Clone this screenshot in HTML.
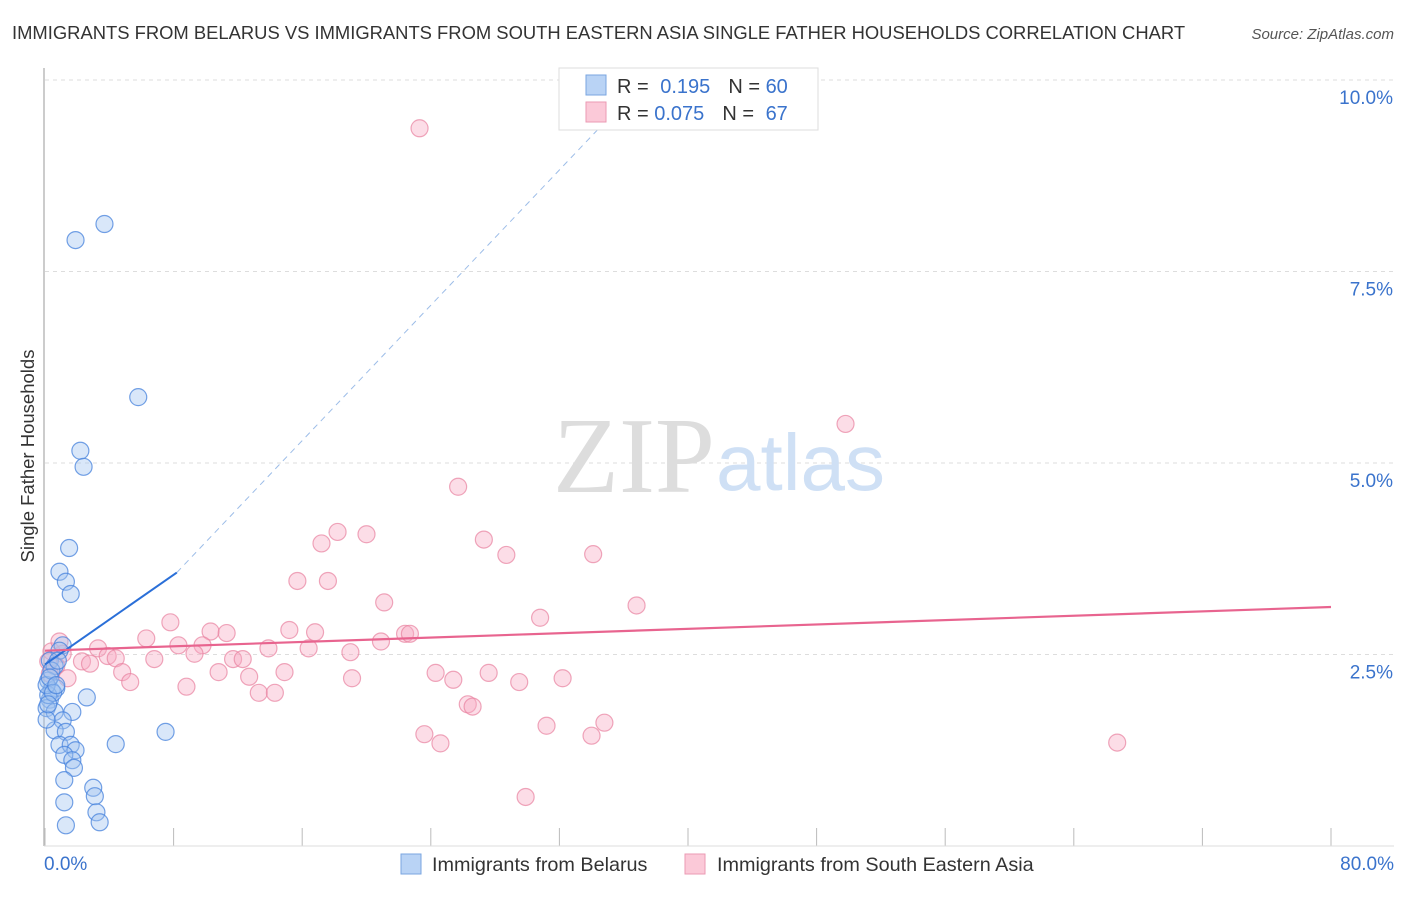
<!DOCTYPE html>
<html><head><meta charset="utf-8"><style>
body{margin:0;background:#fff;font-family:"Liberation Sans",sans-serif}
svg text{font-family:"Liberation Sans",sans-serif}
</style></head><body>
<svg id="chart" width="1406" height="892" viewBox="0 0 1406 892">
<text x="12" y="39" font-size="18.4" fill="#333">IMMIGRANTS FROM BELARUS VS IMMIGRANTS FROM SOUTH EASTERN ASIA SINGLE FATHER HOUSEHOLDS CORRELATION CHART</text>
<text x="1394" y="39" font-size="15" fill="#555" text-anchor="end" font-style="italic">Source: ZipAtlas.com</text>
<text x="34" y="456" font-size="18.5" fill="#333" text-anchor="middle" transform="rotate(-90 34 456)">Single Father Households</text>
<g id="grid"></g>
<g id="ticks"></g>
<line x1="44" y1="68" x2="44" y2="846" stroke="#bbb" stroke-width="1.5"/>
<line x1="44" y1="846" x2="1394" y2="846" stroke="#ddd" stroke-width="1"/>
<text x="553" y="492" font-size="108" fill="#ddd" style="font-family:'Liberation Serif',serif">ZIP</text>
<text x="716" y="490" font-size="80" fill="#cfe0f5">atlas</text>
<g id="pink"></g>
<g id="blue"></g>
<g id="trends"></g>
<g>
<rect x="559" y="68" width="259" height="62" fill="#fff" stroke="#ddd"/>
<rect x="586" y="75" width="20" height="20" fill="#b9d3f5" stroke="#7aa6e0"/>
<rect x="586" y="102" width="20" height="20" fill="#fbc9d8" stroke="#eb9ab3"/>
<text x="617" y="93" font-size="20" fill="#333">R = <tspan fill="#3a73cc" dx="6">0.195</tspan><tspan dx="18" fill="#333">N = </tspan><tspan fill="#3a73cc">60</tspan></text>
<text x="617" y="120" font-size="20" fill="#333">R = <tspan fill="#3a73cc">0.075</tspan><tspan dx="18" fill="#333">N = </tspan><tspan fill="#3a73cc" dx="6">67</tspan></text>
</g>
<g>
<rect x="401" y="854" width="20" height="20" fill="#b9d3f5" stroke="#7aa6e0"/>
<text x="432" y="871" font-size="19.8" fill="#333">Immigrants from Belarus</text>
<rect x="685" y="854" width="20" height="20" fill="#fbc9d8" stroke="#eb9ab3"/>
<text x="717" y="871" font-size="19.8" fill="#333">Immigrants from South Eastern Asia</text>
</g>
</svg>
<script>
const yTicks=[2.5,5.0,7.5,10.0];
const xTickLabels=["0.0%","80.0%"];
const blueX=[1.9,3.7,5.8,2.2,2.4,1.5,0.9,1.3,1.6,1.1,0.9,0.3,0.6,0.2,0.4,0.7,0.3,0.1,0.6,2.6,1.7,1.1,0.6,1.3,0.9,1.6,1.9,1.2,1.7,1.8,1.2,4.4,7.5,3.0,3.1,1.2,3.2,1.3,3.4,0.2,0.1,0.4,0.8,0.1,0.3,0.5,0.2,0.7];
const blueY=[7.91,8.12,5.86,5.16,4.95,3.89,3.58,3.45,3.29,2.62,2.55,2.42,2.35,2.16,2.03,2.06,1.91,1.80,1.75,1.94,1.75,1.64,1.51,1.49,1.32,1.32,1.25,1.19,1.12,1.02,0.86,1.33,1.49,0.76,0.65,0.57,0.44,0.27,0.31,1.97,2.10,2.29,2.42,1.65,2.20,2.00,1.85,2.10];
const pinkX=[23.3,49.8,25.7,18.2,20.0,17.2,27.3,28.7,34.1,15.7,17.6,21.1,36.8,30.8,7.8,15.2,16.8,10.3,11.3,6.3,8.3,9.8,3.3,13.9,16.4,19.0,20.9,22.4,22.7,11.7,12.3,9.3,6.8,3.9,4.4,2.3,2.8,1.1,0.4,0.7,1.4,4.8,5.3,8.8,10.8,12.7,13.3,14.3,14.9,19.1,24.3,25.4,27.6,29.5,32.2,26.3,26.6,31.2,34.8,23.6,24.6,34.0,29.9,66.7,0.2,0.3,0.9];
const pinkY=[9.37,5.51,4.69,4.10,4.07,3.95,4.00,3.80,3.81,3.46,3.46,3.18,3.14,2.98,2.92,2.82,2.79,2.80,2.78,2.71,2.62,2.62,2.58,2.58,2.58,2.53,2.67,2.77,2.77,2.44,2.44,2.51,2.44,2.48,2.45,2.41,2.38,2.51,2.54,2.35,2.19,2.27,2.14,2.08,2.27,2.21,2.00,2.00,2.27,2.19,2.26,2.17,2.26,2.14,2.19,1.85,1.82,1.57,1.61,1.46,1.34,1.44,0.64,1.35,2.41,2.25,2.67];
const blueTrend=[0,8.2,2.37,3.57];
const blueDash=[8.2,34.6,3.57,9.4];
const pinkTrend=[0,80,2.55,3.12];
const NS="http://www.w3.org/2000/svg";
const X=v=>45+v*16.075, Y=v=>846-v*76.6;
function mk(tag,attrs,parent){const e=document.createElementNS(NS,tag);for(const k in attrs)e.setAttribute(k,attrs[k]);parent.appendChild(e);return e;}
const grid=document.getElementById('grid'), ticks=document.getElementById('ticks');
yTicks.forEach(t=>{
 const l=mk('line',{x1:45,x2:1394,y1:Y(t),y2:Y(t),stroke:'#ddd','stroke-dasharray':'4,4'},grid);
 
 
 const tx=mk('text',{x:1393,y:Y(t)+24,'font-size':19,fill:'#3a73cc','text-anchor':'end'},ticks);
 tx.textContent=t.toFixed(1)+'%';
 
 
});
for(let i=0;i<=10;i++){
 const l=mk('line',{x1:X(i*8),x2:X(i*8),y1:828,y2:846,stroke:'#bbb'},ticks);
 
 
}
const t0=mk('text',{x:44,y:870,'font-size':19,fill:'#3a73cc'},ticks);t0.textContent=xTickLabels[0];


const t1=mk('text',{x:1394,y:870,'font-size':19,fill:'#3a73cc','text-anchor':'end'},ticks);t1.textContent=xTickLabels[1];


const pg=document.getElementById('pink');
pinkX.forEach((v,i)=>{const c=mk('circle',{cx:X(v),cy:Y(pinkY[i]),r:8.5,fill:'rgba(247,170,195,0.4)',stroke:'rgba(232,130,160,0.7)','stroke-width':1.2},pg);
 
 });
const bg=document.getElementById('blue');
blueX.forEach((v,i)=>{const c=mk('circle',{cx:X(v),cy:Y(blueY[i]),r:8.5,fill:'rgba(160,195,240,0.4)',stroke:'rgba(70,130,220,0.75)','stroke-width':1.2},bg);
 
 });
const tg=document.getElementById('trends');
const a=mk('line',{x1:X(blueTrend[0]),x2:X(blueTrend[1]),y1:Y(blueTrend[2]),y2:Y(blueTrend[3]),stroke:'#2a6fd8','stroke-width':2},tg);


const b=mk('line',{x1:X(blueDash[0]),x2:X(blueDash[1]),y1:Y(blueDash[2]),y2:Y(blueDash[3]),stroke:'#9dbde8','stroke-width':1,'stroke-dasharray':'6,5'},tg);


const p=mk('line',{x1:X(pinkTrend[0]),x2:X(pinkTrend[1]),y1:Y(pinkTrend[2]),y2:Y(pinkTrend[3]),stroke:'#e8648f','stroke-width':2.2},tg);


</script>
</body></html>
